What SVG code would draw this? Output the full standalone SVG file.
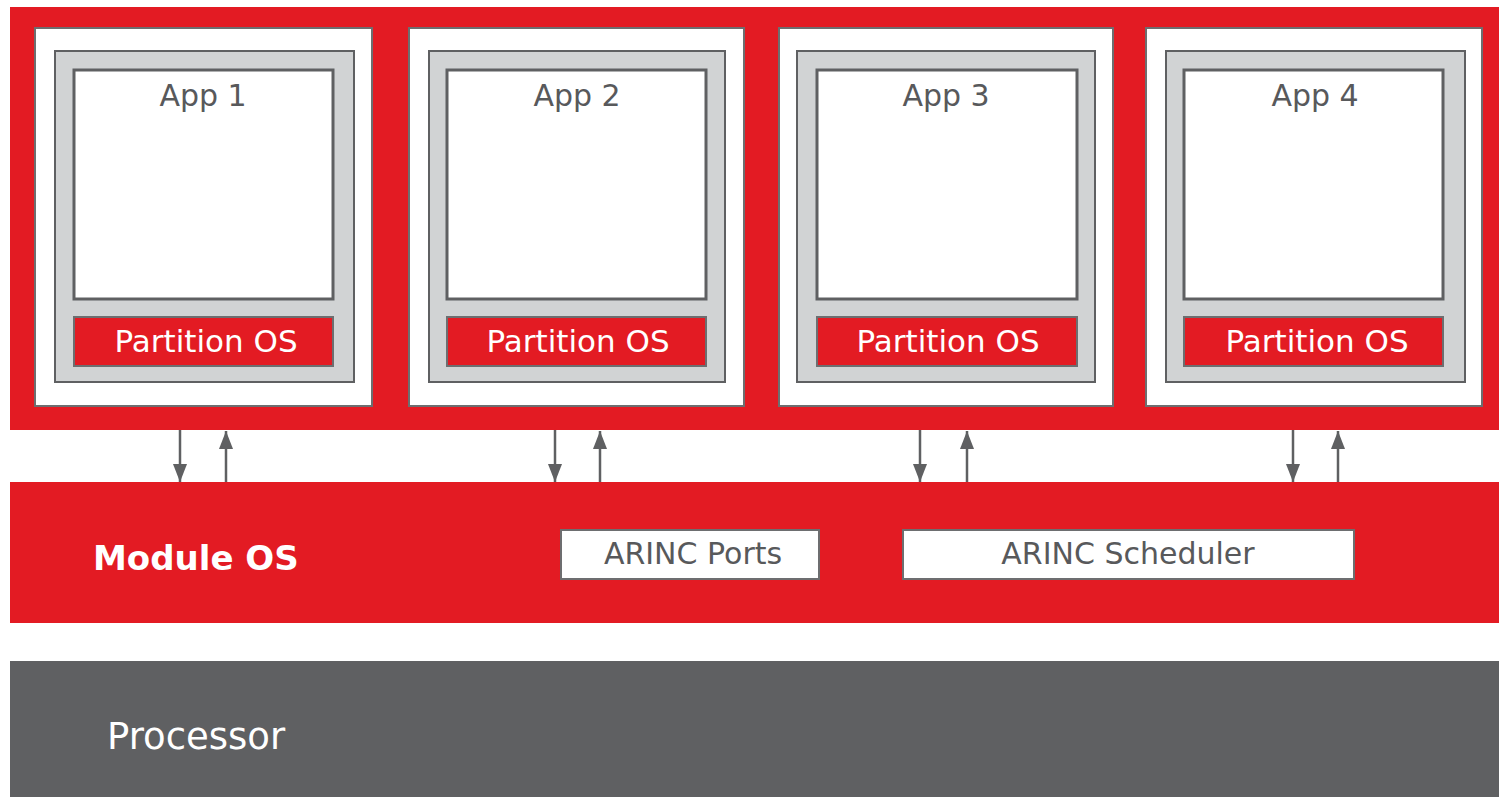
<svg xmlns="http://www.w3.org/2000/svg" width="1499" height="797" viewBox="0 0 1499 797">
  <style>
    .band-red { fill: #e31b23; }
    .band-gray { fill: #5f6062; }
    .outer { fill: #ffffff; stroke: #6d6e70; stroke-width: 2; }
    .frame { fill: #d1d3d4; stroke: #5f6062; stroke-width: 2; }
    .app { fill: #ffffff; stroke: #5f6062; stroke-width: 3; }
    .pos { fill: #e31b23; stroke: #6d6e70; stroke-width: 2; }
    .port { fill: #ffffff; stroke: #6d6e70; stroke-width: 2; }
    .app-label { font-family: "DejaVu Sans", "Liberation Sans", sans-serif; font-size: 30px; fill: #58595b; text-anchor: middle; }
    .pos-label { font-family: "DejaVu Sans", "Liberation Sans", sans-serif; font-size: 31px; fill: #ffffff; text-anchor: middle; }
    .port-label { font-family: "DejaVu Sans", "Liberation Sans", sans-serif; font-size: 30px; fill: #58595b; text-anchor: middle; }
    .layer-label { font-family: "DejaVu Sans", "Liberation Sans", sans-serif; fill: #ffffff; }
    .link { stroke: #5f6062; stroke-width: 2.5; fill: none; }
  </style>
  <defs>
    <marker id="head" markerUnits="userSpaceOnUse" markerWidth="20" markerHeight="14" refX="18" refY="7" orient="auto">
      <path d="M0,0 L18,7 L0,14 Z" fill="#5f6062"/>
    </marker>
  </defs>

  <rect width="1499" height="797" fill="#ffffff"/>

  <!-- partition layer -->
  <g id="partition-layer">
    <rect class="band-red" x="10" y="7" width="1489" height="423"/>
  </g>

  <g id="partition-1">
    <rect class="outer" x="35" y="28" width="337" height="378"/>
    <rect class="frame" x="55" y="51" width="299" height="331"/>
    <rect class="app" x="74" y="70" width="259" height="229"/>
    <text class="app-label" x="203" y="106">App 1</text>
    <rect class="pos" x="74" y="317" width="259" height="49"/>
    <text class="pos-label" x="206" y="352">Partition OS</text>
  </g>

  <g id="partition-2">
    <rect class="outer" x="409" y="28" width="335" height="378"/>
    <rect class="frame" x="429" y="51" width="296" height="331"/>
    <rect class="app" x="447" y="70" width="259" height="229"/>
    <text class="app-label" x="577" y="106">App 2</text>
    <rect class="pos" x="447" y="317" width="259" height="49"/>
    <text class="pos-label" x="578" y="352">Partition OS</text>
  </g>

  <g id="partition-3">
    <rect class="outer" x="779" y="28" width="334" height="378"/>
    <rect class="frame" x="797" y="51" width="298" height="331"/>
    <rect class="app" x="817" y="70" width="260" height="229"/>
    <text class="app-label" x="946" y="106">App 3</text>
    <rect class="pos" x="817" y="317" width="260" height="49"/>
    <text class="pos-label" x="948" y="352">Partition OS</text>
  </g>

  <g id="partition-4">
    <rect class="outer" x="1146" y="28" width="336" height="378"/>
    <rect class="frame" x="1166" y="51" width="299" height="331"/>
    <rect class="app" x="1184" y="70" width="259" height="229"/>
    <text class="app-label" x="1315" y="106">App 4</text>
    <rect class="pos" x="1184" y="317" width="259" height="49"/>
    <text class="pos-label" x="1317" y="352">Partition OS</text>
  </g>

  <!-- module OS layer -->
  <g id="module-os">
    <rect class="band-red" x="10" y="482" width="1489" height="141"/>
    <text class="layer-label" x="93" y="570" font-size="34" font-weight="bold">Module OS</text>
  </g>

  <g id="arinc-ports">
    <rect class="port" x="561" y="530" width="258" height="49"/>
    <text class="port-label" x="693" y="564">ARINC Ports</text>
  </g>

  <g id="arinc-scheduler">
    <rect class="port" x="903" y="530" width="451" height="49"/>
    <text class="port-label" x="1128" y="564">ARINC Scheduler</text>
  </g>

  <!-- processor layer -->
  <g id="processor">
    <rect class="band-gray" x="10" y="661" width="1489" height="136"/>
    <text class="layer-label" x="107" y="749" font-size="37">Processor</text>
  </g>

  <!-- partition / module OS links -->
  <g id="connectors">
    <line class="link" x1="180" y1="430" x2="180" y2="482" marker-end="url(#head)"/>
    <line class="link" x1="226" y1="482" x2="226" y2="431" marker-end="url(#head)"/>
    <line class="link" x1="555" y1="430" x2="555" y2="482" marker-end="url(#head)"/>
    <line class="link" x1="600" y1="482" x2="600" y2="431" marker-end="url(#head)"/>
    <line class="link" x1="920" y1="430" x2="920" y2="482" marker-end="url(#head)"/>
    <line class="link" x1="967" y1="482" x2="967" y2="431" marker-end="url(#head)"/>
    <line class="link" x1="1293" y1="430" x2="1293" y2="482" marker-end="url(#head)"/>
    <line class="link" x1="1338" y1="482" x2="1338" y2="431" marker-end="url(#head)"/>
  </g>
</svg>
